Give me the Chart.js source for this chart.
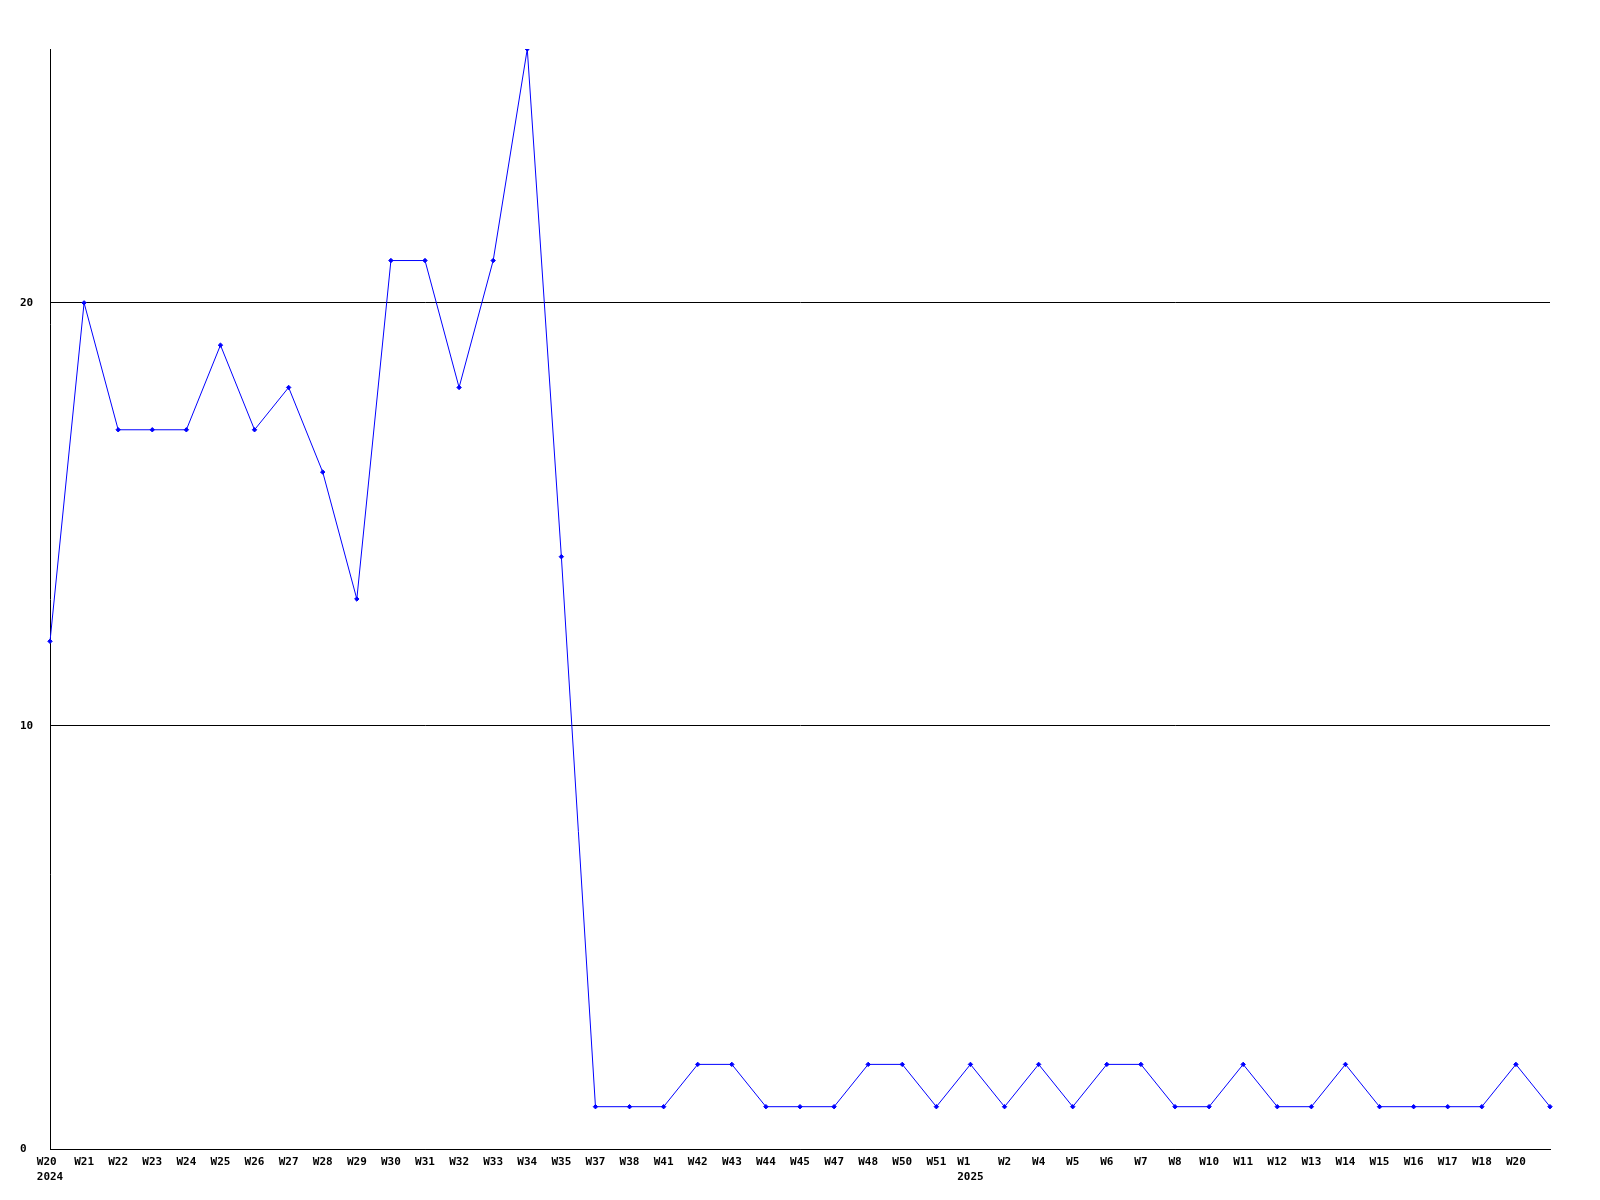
<!DOCTYPE html>
<html>
<head>
<meta charset="utf-8">
<script src="https://cdn.jsdelivr.net/npm/chart.js@4/dist/chart.umd.min.js"></script>
<style>
  html, body { margin: 0; padding: 0; background: #ffffff; }
  #wrap { width: 1600px; height: 1200px; }
</style>
</head>
<body>
<div id="wrap"><canvas id="c" width="1600" height="1200"></canvas></div>
<script>
const categories = [
  ['W20', '2024'], 'W21', 'W22', 'W23', 'W24', 'W25', 'W26', 'W27', 'W28', 'W29',
  'W30', 'W31', 'W32', 'W33', 'W34', 'W35', 'W37', 'W38', 'W41', 'W42',
  'W43', 'W44', 'W45', 'W47', 'W48', 'W50', 'W51', ['W1', '2025'], 'W2', 'W4',
  'W5', 'W6', 'W7', 'W8', 'W10', 'W11', 'W12', 'W13', 'W14', 'W15',
  'W16', 'W17', 'W18', 'W20', 'W21'
];
const seriesValues = [
  12, 20, 17, 17, 17, 19, 17, 18, 16, 13,
  21, 21, 18, 21, 26, 14, 1, 1, 1, 2,
  2, 1, 1, 1, 2, 2, 1, 2, 1, 2,
  1, 2, 2, 1, 1, 2, 1, 1, 2, 1,
  1, 1, 1, 2, 1
];
const yTickValues = [0, 10, 20];
const yMax = 26;

const font = { family: "'DejaVu Sans Mono', 'Liberation Mono', monospace", size: 11, weight: 'bold', lineHeight: 1.36 };

function formatX(v, i) {
  if (i === categories.length - 1) return '';
  const lab = this.getLabelForValue(v);
  if (Array.isArray(lab)) {
    // left-align the lines of a multi-line label inside a centred block
    const w = Math.max(...lab.map(s => s.length));
    return lab.map(s => s + '\u00a0'.repeat(w - s.length));
  }
  return lab;
}

new Chart(document.getElementById('c'), {
  type: 'line',
  data: {
    labels: categories,
    datasets: [{
      data: seriesValues,
      borderColor: '#0000ff',
      backgroundColor: '#0000ff',
      borderWidth: 1,
      pointStyle: 'rectRot',
      pointRadius: 2.2,
      pointBorderWidth: 1,
      tension: 0,
      fill: false
    }]
  },
  options: {
    responsive: false,
    animation: false,
    devicePixelRatio: 1,
    layout: { padding: { left: 20, right: 50, top: 49, bottom: 0 } },
    plugins: { legend: { display: false }, tooltip: { enabled: false } },
    scales: {
      x: {
        type: 'category',
        offset: false,
        grid: { display: false, drawTicks: false },
        border: { display: true, color: '#000000', width: 1 },
        ticks: {
          autoSkip: false,
          maxRotation: 0,
          minRotation: 0,
          padding: 6,
          color: '#000000',
          font: font,
          callback: formatX
        },
        afterFit: axis => { axis.height = 51; }
      },
      y: {
        min: 0,
        max: yMax,
        grid: { color: '#000000', lineWidth: 1, drawTicks: false },
        border: { display: true, color: '#000000', width: 1 },
        afterBuildTicks: axis => { axis.ticks = yTickValues.map(v => ({ value: v })); },
        ticks: {
          crossAlign: 'far',
          padding: 0,
          color: '#000000',
          font: font
        },
        afterFit: axis => { axis.width = 30; }
      }
    }
  }
});
</script>
</body>
</html>
